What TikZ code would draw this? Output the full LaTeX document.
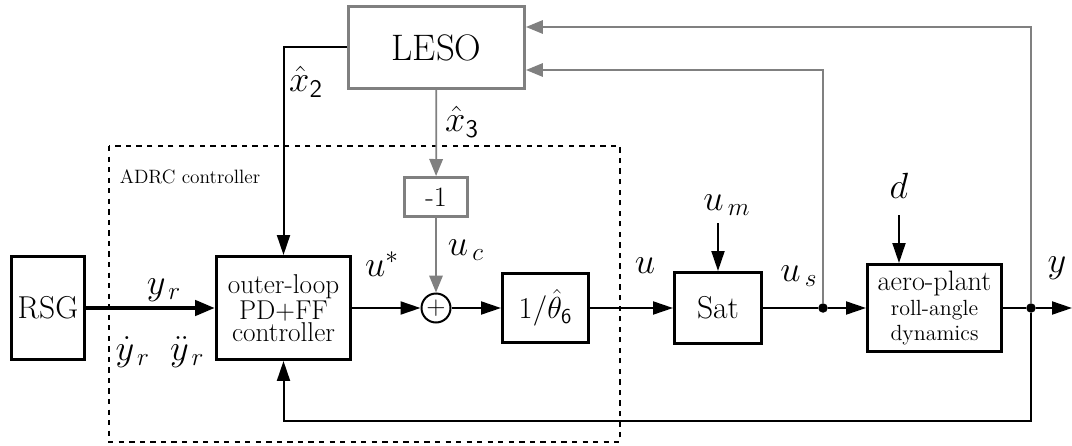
\documentclass[tikz,border=0pt]{standalone}
\usepackage{amsmath}
\usepackage{tikz}
\usetikzlibrary{arrows.meta,positioning}
\definecolor{obsgray}{RGB}{128,128,128}
\tikzset{
  blk/.style={draw, line width=0.06cm, fill=white, inner sep=0pt, align=center},
  gblk/.style={blk, draw=obsgray},
  sig/.style={line width=0.04cm, -{Triangle[length=0.4cm,width=0.26cm]}},
  wire/.style={line width=0.04cm},
  gsig/.style={line width=0.035cm, draw=obsgray, -{Triangle[length=0.34cm,width=0.27cm]}},
  dot/.style={circle, fill, inner sep=0pt, minimum size=0.19cm},
  lab/.style={font=\fontsize{21}{23}\selectfont}
}
\begin{document}
\begin{tikzpicture}[x=0.02cm, y=-0.02cm]
  \useasboundingbox (0,0) rectangle (1072,446);

  % controller frame
  \draw[dashed, line width=0.025cm] (109,146) rectangle (620,442);
  \node[font=\fontsize{11}{13}\selectfont] (adrc) at (190,177) {ADRC controller};

  % blocks
  \node[blk, minimum width=1.46cm, minimum height=2.08cm, font=\fontsize{18}{20}\selectfont] (rsg) at (48,308) {RSG};
  \node[blk, minimum width=2.68cm, minimum height=2.06cm, font=\fontsize{15.5}{12.5}\selectfont] (ctrl) at (283.5,308) {outer-loop\\PD+FF\\controller};
  \node[circle, draw, line width=0.04cm, inner sep=0pt, minimum size=0.58cm, font=\fontsize{15}{15}\selectfont] (sum) at (436,308) {$+$};
  \node[blk, minimum width=1.72cm, minimum height=1.40cm, font=\fontsize{18}{20}\selectfont] (inv) at (545.5,308) {$1/\hat{\theta}_{\mathsf{6}}$};
  \node[blk, minimum width=1.74cm, minimum height=1.42cm, font=\fontsize{18}{20}\selectfont] (sat) at (718,308) {Sat};
  \node[blk, minimum width=2.68cm, minimum height=1.74cm, font=\fontsize{16}{14}\selectfont] (plant) at (934.5,308)
    {aero-plant\\\fontsize{12.5}{10.5}\selectfont roll-angle\\\fontsize{12.5}{10.5}\selectfont dynamics};
  \node[gblk, minimum width=3.52cm, minimum height=1.64cm, font=\fontsize{21}{24}\selectfont] (leso) at (436.5,47.5) {LESO};
  \node[gblk, minimum width=1.26cm, minimum height=0.78cm, font=\fontsize{16}{18}\selectfont] (neg) at (436,197) {-1};

  % branch points and free ends
  \node[dot] (s1) at (823,308) {};
  \node[dot] (s2) at (1031,308) {};
  \coordinate (yout) at (1072,308);
  \coordinate (umin) at (718,223);
  \coordinate (din) at (899,215);
  \coordinate (fbc) at (1031,421);
  \path (leso.east) ++(0,22.5) coordinate (g1);
  \path (leso.east) ++(0,-20.5) coordinate (g2);

  % forward path
  \draw[line width=0.09cm, -{Triangle[length=0.4cm,width=0.3cm]}] (rsg) -- (ctrl);
  \draw[sig] (ctrl) -- (sum);
  \draw[sig] (sum) -- (inv);
  \draw[sig] (inv) -- (sat);
  \draw[wire] (sat) -- (s1);
  \draw[sig] (s1) -- (plant);
  \draw[wire] (plant) -- (s2);
  \draw[sig] (s2) -- (yout);
  \draw[sig] (umin) -- (sat.north);
  \draw[sig] (din) -- (din |- plant.north);

  % feedback and observer
  \draw[sig] (s2) -- (fbc) -| (ctrl.south);
  \draw[sig] (leso.west) -| (ctrl.north);
  \draw[gsig] (leso) -- (neg);
  \draw[gsig] (neg) -- (sum);
  \draw[gsig] (s1) |- (g1);
  \draw[gsig] (s2) |- (g2);

  % signal labels
  \node[lab] (lx2) at (306,82) {$\hat{x}_{\mathsf{2}}$};
  \node[lab] (lx3) at (462,122) {$\hat{x}_{\mathsf{3}}$};
  \node[lab] (luc) at (466,250) {$u_{\,c}$};
  \node[lab] (lus) at (382,264) {$u^{*}$};
  \node[lab] (lyr) at (164,290) {$y_{\,r}$};
  \node[lab] (lyd) at (160,352) {$\dot{y}_{\,r}\;\;\ddot{y}_{\,r}$};
  \node[lab] (lu) at (645,266) {$u$};
  \node[lab] (lum) at (727,205) {$u_{\,m}$};
  \node[lab] (lus2) at (799,276) {$u_{\,s}$};
  \node[lab] (ld) at (899,186) {$d$};
  \node[lab] (ly) at (1057,268) {$y$};
\end{tikzpicture}
\end{document}
